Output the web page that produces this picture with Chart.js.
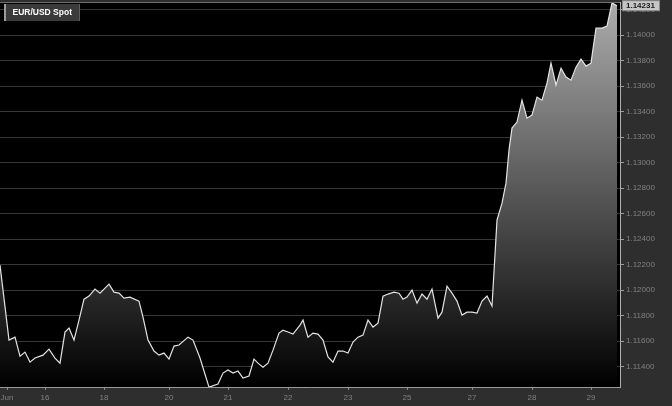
<!DOCTYPE html>
<html>
<head>
<meta charset="utf-8">
<script src="https://cdn.jsdelivr.net/npm/chart.js@4/dist/chart.umd.min.js"></script>
<style>
html,body{margin:0;padding:0;background:#2e2e2e;}
#wrap{width:672px;height:406px;position:relative;}
canvas{display:block;}
</style>
</head>
<body>
<div id="wrap"><canvas id="c" width="672" height="406"></canvas></div>
<script>
const seriesName = 'EUR/USD Spot';

// time since start of chart, in hours
const hours = [
  0, 3.6, 6, 8, 10, 12, 14, 17.2, 19.6, 22, 24, 26, 27.6, 29.6, 31.6, 33.6, 35.6, 38, 40,
  43.6, 45.6, 47.6, 49.6, 52, 55.6, 57.2, 59.2, 61.6, 63.6, 65.6, 67.6, 69.6, 71.6, 75.2, 77.2, 80,
  83.6, 87.2, 89.2, 91.2, 93.2, 95.2, 97.2, 99.6, 101.6, 103.2, 105.2, 107.2, 109.2, 111.6, 113.2, 115.2, 117.2, 120,
  121.2, 123.2, 125.2, 127.2, 129.2, 131.2, 133.2, 135.2, 137.2, 139.2, 141.2, 143.2, 145.2, 147.2, 149.2, 151.2, 153.2, 155.2, 157.6, 159.6,
  161.2, 162.8, 164.8, 166.8, 168.8, 170.8, 172.8, 175.2, 176.8, 178.8, 180.8, 182.8, 184.8, 186.8, 188.8, 190.8, 192.8, 194.8, 196.8, 198.8, 200.8, 202.4,
  203.6, 204.8, 206.8, 208.8, 210.8, 212.8, 214.8, 216.8, 218.8, 220.4, 222.4, 224.4, 226.4, 228.4, 230.4, 232.4, 234.4, 236.4, 238.4, 240.8, 242.8, 244.8, 246.8
];

const spot = [
  1.12196, 1.11608, 1.11631, 1.11482, 1.11514, 1.11435, 1.11467, 1.11490, 1.11537, 1.11467, 1.11427, 1.11671, 1.11702, 1.11608, 1.11765, 1.11929, 1.11953, 1.12008, 1.11976,
  1.12047, 1.11984, 1.11976, 1.11937, 1.11945, 1.11914, 1.11788, 1.11608, 1.11522, 1.11490, 1.11506, 1.11459, 1.11561, 1.11569, 1.11631, 1.11608, 1.11467,
  1.11239, 1.11263, 1.11349, 1.11373, 1.11349, 1.11365, 1.11310, 1.11326, 1.11459, 1.11427, 1.11396, 1.11427, 1.11529, 1.11663, 1.11686, 1.11671, 1.11655, 1.11726,
  1.11765, 1.11631, 1.11663, 1.11655, 1.11608, 1.11475, 1.11435, 1.11522, 1.11522, 1.11506, 1.11592, 1.11631, 1.11647, 1.11765, 1.11710, 1.11741, 1.11953, 1.11969, 1.11984, 1.11976,
  1.11929, 1.11945, 1.12000, 1.11898, 1.11969, 1.11929, 1.12008, 1.11780, 1.11827, 1.12031, 1.11976, 1.11914, 1.11804, 1.11827, 1.11827, 1.11820, 1.11914, 1.11953, 1.11875, 1.12549, 1.12682, 1.12839,
  1.13098, 1.13271, 1.13318, 1.13490, 1.13349, 1.13373, 1.13514, 1.13490, 1.13624, 1.13780, 1.13608, 1.13741, 1.13671, 1.13647, 1.13749, 1.13812, 1.13757, 1.13780, 1.14055, 1.14055, 1.14071, 1.14252, 1.14231
];

const xTickHours  = [2.8, 18, 41.6, 67.6, 91.2, 115.2, 139.2, 162.8, 188.8, 212.8, 236.4];
const xTickLabels = ['Jun', '16', '18', '20', '21', '22', '23', '25', '27', '28', '29'];

const yTickValues = [1.114, 1.116, 1.118, 1.120, 1.122, 1.124, 1.126, 1.128, 1.130, 1.132, 1.134, 1.136, 1.138, 1.140, 1.142];

const FONT = '"Liberation Sans", Arial, sans-serif';

const points = hours.map((h, i) => ({x: h, y: spot[i]}));

const decor = {
  id: 'decor',
  beforeDraw(chart) {
    const {ctx, chartArea: a} = chart;
    ctx.save();
    ctx.fillStyle = '#2e2e2e';
    ctx.fillRect(0, 0, chart.width, chart.height);
    ctx.fillStyle = '#000';
    ctx.fillRect(a.left, a.top, a.right - a.left, a.bottom - a.top);
    ctx.restore();
  },
  afterDraw(chart) {
    const {ctx, chartArea: a} = chart;
    const ys = chart.scales.y;
    ctx.save();
    // top border
    ctx.strokeStyle = '#6e6e6e';
    ctx.lineWidth = 1;
    ctx.beginPath();
    ctx.moveTo(a.left, a.top + 0.5);
    ctx.lineTo(a.right, a.top + 0.5);
    ctx.stroke();

    // legend box
    ctx.fillStyle = '#3b3b3b';
    ctx.fillRect(4, 4, 76, 17);
    ctx.fillStyle = '#9c9c9c';
    ctx.fillRect(4, 4, 2, 17);
    ctx.fillStyle = '#5e5e5e';
    ctx.fillRect(79, 4, 1, 17);
    ctx.fillStyle = '#ffffff';
    ctx.font = 'bold 8.5px ' + FONT;
    ctx.textBaseline = 'middle';
    ctx.textAlign = 'left';
    ctx.fillText(seriesName, 12.5, 13);

    // last value box
    const last = spot[spot.length - 1];
    const py = ys.getPixelForValue(last);
    ctx.fillStyle = '#c6c6c6';
    ctx.fillRect(622.5, py - 5, 37, 10);
    ctx.strokeStyle = '#8a8a8a';
    ctx.strokeRect(622.5, py - 5, 37, 10);
    ctx.fillStyle = '#1a1a1a';
    ctx.font = 'bold 8px ' + FONT;
    ctx.fillText(last.toFixed(5), 626, py + 0.5);
    ctx.restore();
  }
};

new Chart(document.getElementById('c'), {
  type: 'line',
  data: {
    datasets: [{
      label: seriesName,
      data: points,
      borderColor: '#e4e4e4',
      borderWidth: 1.2,
      pointRadius: 0,
      tension: 0,
      fill: 'start',
      backgroundColor(context) {
        const {chart} = context;
        const {ctx, chartArea} = chart;
        if (!chartArea) return 'rgba(0,0,0,0)';
        const g = ctx.createLinearGradient(0, chartArea.top, 0, chartArea.bottom);
        g.addColorStop(0, '#acacac');
        g.addColorStop(1, '#000000');
        return g;
      }
    }]
  },
  options: {
    responsive: false,
    animation: false,
    devicePixelRatio: 1,
    layout: {padding: {top: 2, left: 0, right: 0, bottom: 0}},
    plugins: {legend: {display: false}, tooltip: {enabled: false}},
    scales: {
      x: {
        type: 'linear',
        min: 0,
        max: 248,
        grid: {display: true, drawOnChartArea: false, drawTicks: true, tickLength: 3, tickColor: '#8a8a8a'},
        border: {display: true, color: '#9a9a9a', width: 1},
        ticks: {
          autoSkip: false, maxRotation: 0, color: '#808080', padding: 3,
          font: {size: 8, family: FONT},
          callback: (v, i) => xTickLabels[i]
        },
        afterBuildTicks: s => { s.ticks = xTickHours.map(v => ({value: v})); },
        afterFit: s => { s.height = 19; s.paddingLeft = 0; s.paddingRight = 0; }
      },
      y: {
        position: 'right',
        min: 1.1124,
        max: 1.1426,
        grid: {color: '#363636', tickColor: '#9a9a9a', tickLength: 4, drawTicks: true},
        border: {display: true, color: '#b0b0b0', width: 1},
        ticks: {
          color: '#808080', padding: 2,
          font: {size: 8, family: FONT},
          callback: v => Number(v).toFixed(5)
        },
        afterBuildTicks: s => { s.ticks = yTickValues.map(v => ({value: v})); },
        afterFit: s => { s.width = 52; s.paddingTop = 0; s.paddingBottom = 0; }
      }
    }
  },
  plugins: [decor]
});
</script>
</body>
</html>
